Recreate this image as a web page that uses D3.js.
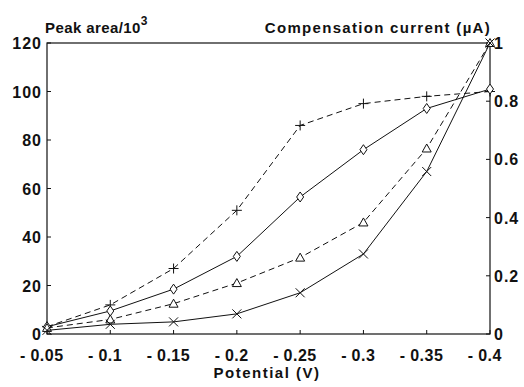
<!DOCTYPE html>
<html>
<head>
<meta charset="utf-8">
<script src="https://cdn.jsdelivr.net/npm/d3@7"></script>
<style>
  body { margin: 0; background: #fff; }
  text { font-family: "Liberation Sans", Arial, sans-serif; font-weight: bold; fill: #111; }
</style>
</head>
<body>
<div id="chart"></div>
<script>
// Données
const potentials = [-0.05, -0.1, -0.15, -0.2, -0.25, -0.3, -0.35, -0.4];
const plusSeries = [3, 12, 27, 51, 86, 95, 98, 100];
const diamondSeries = [3, 9.5, 18.5, 32, 56.5, 76, 93, 101];
const triangleSeries = [2.5, 6, 12.5, 21, 31.5, 46, 76.5, 120];
const crossSeries = [1.5, 4, 5, 8.3, 17, 33, 67, 120];
const leftTicks = [0, 20, 40, 60, 80, 100, 120];
const rightTicks = [0, 0.2, 0.4, 0.6, 0.8, 1];
const xTickLabels = ["0.05", "0.1", "0.15", "0.2", "0.25", "0.3", "0.35", "0.4"];

const width = 524, height = 387;
const margin = {top: 43, right: 34, bottom: 53, left: 47};

const svg = d3.select('#chart')
    .append('svg')
    .attr("width", width)
    .attr("height", height);

const x = d3.scaleLinear().domain([-0.05, -0.4]).range([margin.left, width - margin.right]);
const yL = d3.scaleLinear().domain([0, 120]).range([height - margin.bottom, margin.top]);
const yR = d3.scaleLinear().domain([0, 1]).range([height - margin.bottom, margin.top]);

const x0 = margin.left, x1 = width - margin.right;
const y0 = height - margin.bottom, y1 = margin.top;

// cadre
svg.append("rect")
    .attr("x", x0).attr("y", y1)
    .attr("width", x1 - x0).attr("height", y0 - y1)
    .attr("fill", "none").attr("stroke", "#111").attr("stroke-width", 1.2);

// axe gauche
leftTicks.forEach(t => {
    svg.append("line").attr("x1", x0).attr("x2", x0 + 4).attr("y1", yL(t)).attr("y2", yL(t))
        .attr("stroke", "#111");
    svg.append("text").attr("x", x0 - 5).attr("y", yL(t) + 6)
        .attr("text-anchor", "end").attr("font-size", 16).attr("letter-spacing", 1).text(t);
});

// axe droit
rightTicks.forEach(t => {
    svg.append("line").attr("x1", x1 - 4).attr("x2", x1).attr("y1", yR(t)).attr("y2", yR(t))
        .attr("stroke", "#111");
    svg.append("text").attr("x", x1 + 4).attr("y", yR(t) + 6)
        .attr("text-anchor", "start").attr("font-size", 16).attr("letter-spacing", 1).text(t);
});

// axe du bas
potentials.forEach((p, i) => {
    svg.append("line").attr("x1", x(p)).attr("x2", x(p)).attr("y1", y0).attr("y2", y0 - 4)
        .attr("stroke", "#111");
    const num = svg.append("text").attr("x", x(p)).attr("y", y0 + 27)
        .attr("text-anchor", "middle").attr("font-size", 16).attr("letter-spacing", 0.5)
        .text(xTickLabels[i]);
    const w = num.node().getComputedTextLength();
    svg.append("text").attr("x", x(p) - w / 2 - 5).attr("y", y0 + 27)
        .attr("text-anchor", "end").attr("font-size", 16).text("-");
});

// titres
svg.append("text").attr("x", x0 - 2).attr("y", 33).attr("font-size", 15).attr("letter-spacing", 0.4)
    .text("Peak area/10")
    .append("tspan").attr("dy", -8).attr("font-size", 12).text("3");
svg.append("text").attr("x", x1 + 1).attr("y", 33).attr("text-anchor", "end").attr("font-size", 15)
    .attr("letter-spacing", 1.3)
    .text("Compensation current (µA)");
svg.append("text").attr("x", 267).attr("y", 378).attr("text-anchor", "middle")
    .attr("font-size", 15).attr("letter-spacing", 1.5).text("Potential (V)");

// courbes
const series = [
    {values: plusSeries, dash: "6,4", marker: "plus"},
    {values: diamondSeries, dash: null, marker: "diamond"},
    {values: triangleSeries, dash: "6,4", marker: "triangle"},
    {values: crossSeries, dash: null, marker: "cross"}
];

const line = d3.line()
    .x((d, i) => x(potentials[i]))
    .y(d => yL(d));

const markerPath = {
    plus: "M-5,0H5M0,-5V5",
    diamond: "M0,-5L3.5,0L0,5L-3.5,0Z",
    triangle: "M0,-4.5L4.5,3.5H-4.5Z",
    cross: "M-4.5,-4.5L4.5,4.5M-4.5,4.5L4.5,-4.5"
};

series.forEach(s => {
    svg.append("path")
        .attr("d", line(s.values))
        .attr("fill", "none")
        .attr("stroke", "#111")
        .attr("stroke-width", 1)
        .attr("stroke-dasharray", s.dash);

    svg.selectAll(null)
        .data(s.values)
        .enter()
        .append("path")
        .attr("transform", (d, i) => "translate(" + x(potentials[i]) + "," + yL(d) + ")")
        .attr("d", markerPath[s.marker])
        .attr("fill", "#fff")
        .attr("fill-opacity", s.marker === "plus" || s.marker === "cross" ? 0 : 1)
        .attr("stroke", "#111")
        .attr("stroke-width", 1);
});
</script>
</body>
</html>
